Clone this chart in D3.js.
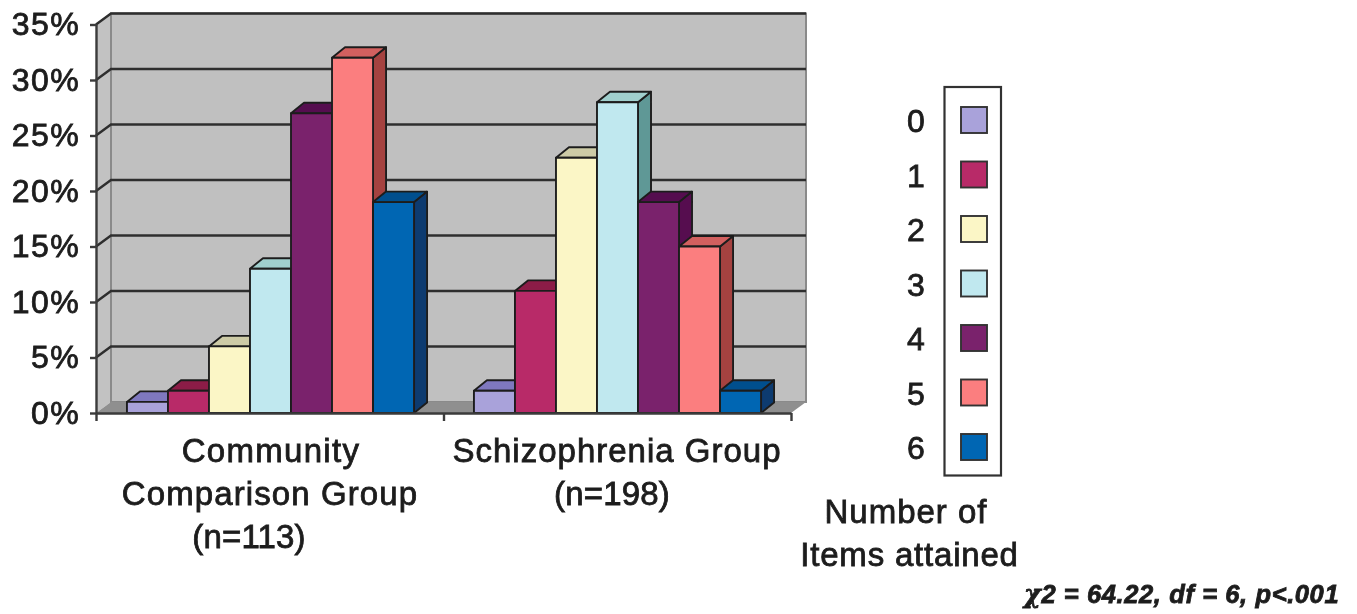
<!DOCTYPE html>
<html>
<head>
<meta charset="utf-8">
<script src="https://cdn.jsdelivr.net/npm/d3@7"></script>
<style>
  html, body { margin: 0; padding: 0; background: #fff; }
  svg { display: block; }
  text { font-family: "Liberation Sans", Arial, sans-serif; fill: #1c1c1c; stroke: #1c1c1c; stroke-width: 0.8px; }
</style>
</head>
<body>
<script>
const groups = ["Community Comparison Group", "Schizophrenia Group"];
const items = ["0", "1", "2", "3", "4", "5", "6"];
const community = [1, 2, 6, 13, 27, 32, 19];
const schizophrenia = [2, 11, 23, 28, 19, 15, 2];
const yTicks = [0, 5, 10, 15, 20, 25, 30, 35];

const frontColors = ["#a9a2da", "#b82b68", "#fbf6c6", "#c0e8ef", "#7a206c", "#fb7e7f", "#0566b3"];
const topColors = ["#7f78bf", "#8c1c46", "#cdcba6", "#a0cfcd", "#551050", "#d2605f", "#04508e"];
const sideColors = ["#6b65a6", "#861d4a", "#b5b38e", "#5f9896", "#560e50", "#a5423f", "#0d3b70"];

const width = 1357;
const height = 614;
const svg = d3.select("body").append("svg").attr("width", width).attr("height", height);

// a slight blur, the reference is a scaled up jpeg
svg.append("defs").append("filter").attr("id", "soft")
  .append("feGaussianBlur").attr("stdDeviation", 0.7);
const chart = svg.append("g").attr("filter", "url(#soft)");

const y = d3.scaleLinear().domain([0, 35]).range([413, 24.5]);
const xEdge = d3.scaleLinear().domain([0, 2]).range([96, 791]);
const xGroup = d3.scaleBand().domain(groups).range([97, 791]);
const xBar = d3.scaleBand().domain(items).range([0, xGroup.bandwidth()]).paddingOuter(0.73).paddingInner(0);

const wallDx = 15, wallDy = -11;
const barDx = 13, barDy = -10.5;
const pts = a => a.map(p => p.join(",")).join(" ");

// walls and floor
chart.append("polygon")
  .attr("points", pts([[xEdge(0), y(0)], [xEdge(0) + wallDx, y(0) + wallDy], [xEdge(0) + wallDx, y(35) + wallDy], [xEdge(0), y(35)]]))
  .attr("fill", "#c2c2c2");
chart.append("rect")
  .attr("x", xEdge(0) + wallDx).attr("y", y(35) + wallDy)
  .attr("width", xEdge(2) - xEdge(0)).attr("height", y(0) - y(35))
  .attr("fill", "#c0c0c0").attr("stroke", "#8a8a8a").attr("stroke-width", 2);
chart.append("polygon")
  .attr("points", pts([[xEdge(0), y(0)], [xEdge(0) + wallDx, y(0) + wallDy], [xEdge(2) + wallDx, y(0) + wallDy], [xEdge(2), y(0)]]))
  .attr("fill", "#8f8f8f");

// gridlines, back wall and the step on the left wall
chart.selectAll(".grid").data(yTicks.slice(1)).join("polyline")
  .attr("class", "grid")
  .attr("fill", "none").attr("stroke", "#2e2e2e").attr("stroke-width", 2.4)
  .attr("points", d => pts([[xEdge(0), y(d)], [xEdge(0) + wallDx, y(d) + wallDy], [xEdge(2) + wallDx, y(d) + wallDy]]));

// bars
const rows = groups.flatMap((g, gi) => items.map((item, i) => ({
  group: g, item: item, i: i, value: (gi === 0 ? community : schizophrenia)[i]
})));
const bar = chart.selectAll(".bar").data(rows).join("g").attr("class", "bar")
  .attr("stroke", "#1e1e1e").attr("stroke-width", 1.9).attr("stroke-linejoin", "round");
bar.append("polygon").attr("fill", d => sideColors[d.i]).attr("points", d => {
  const x1 = xGroup(d.group) + xBar(d.item) + xBar.bandwidth();
  return pts([[x1, y(0)], [x1 + barDx, y(0) + barDy], [x1 + barDx, y(d.value) + barDy], [x1, y(d.value)]]);
});
bar.append("polygon").attr("fill", d => topColors[d.i]).attr("points", d => {
  const x0 = xGroup(d.group) + xBar(d.item);
  const x1 = x0 + xBar.bandwidth();
  return pts([[x0, y(d.value)], [x0 + barDx, y(d.value) + barDy], [x1 + barDx, y(d.value) + barDy], [x1, y(d.value)]]);
});
bar.append("rect").attr("fill", d => frontColors[d.i])
  .attr("x", d => xGroup(d.group) + xBar(d.item))
  .attr("y", d => y(d.value))
  .attr("width", xBar.bandwidth())
  .attr("height", d => y(0) - y(d.value));

// axes
const axisY = d3.axisLeft(y).tickValues(yTicks).tickFormat(d => d + "%").tickSize(6).tickPadding(10).tickSizeOuter(0);
const axisX = d3.axisBottom(xEdge).tickValues([0, 1, 2]).tickFormat("").tickSize(8).tickSizeOuter(0);
const gy = chart.append("g").attr("transform", "translate(" + xEdge(0) + ",0)").call(axisY);
const gx = chart.append("g").attr("transform", "translate(0," + y(0) + ")").call(axisX);
[gy, gx].forEach(g => {
  g.selectAll("path, line").attr("stroke", "#3a3a3a").attr("stroke-width", 2.4);
});
gy.selectAll("text").attr("font-size", 32).attr("letter-spacing", 1.4)
  .attr("font-family", "Liberation Sans").attr("fill", "#1c1c1c");

// category labels
const catLabels = [
  { text: "Community", x: 271, y: 462, spacing: 1.3 },
  { text: "Comparison Group", x: 270, y: 505, spacing: 1.1 },
  { text: "(n=113)", x: 249, y: 548, spacing: 0.2 },
  { text: "Schizophrenia Group", x: 617, y: 462, spacing: 1 },
  { text: "(n=198)", x: 612, y: 505, spacing: 0.2 },
  { text: "Number of", x: 906, y: 523, spacing: 1 },
  { text: "Items attained", x: 909.5, y: 566, spacing: 0.8 }
];
chart.selectAll(".cat").data(catLabels).join("text")
  .attr("class", "cat")
  .attr("x", d => d.x).attr("y", d => d.y)
  .attr("text-anchor", "middle").attr("font-size", 33)
  .attr("letter-spacing", d => d.spacing)
  .text(d => d.text);

// legend
const legendY = d3.scalePoint().domain(items).range([120, 447]);
chart.append("rect").attr("x", 944.5).attr("y", 87).attr("width", 56.5).attr("height", 388.5)
  .attr("fill", "#fff").attr("stroke", "#333").attr("stroke-width", 2.2);
chart.selectAll(".swatch").data(items).join("rect")
  .attr("class", "swatch")
  .attr("x", 961).attr("y", d => legendY(d) - 13)
  .attr("width", 26).attr("height", 26)
  .attr("fill", (d, i) => frontColors[i]).attr("stroke", "#333").attr("stroke-width", 1.9);
chart.selectAll(".legendLabel").data(items).join("text")
  .attr("class", "legendLabel")
  .attr("x", 916).attr("y", d => legendY(d) + 1)
  .attr("dy", "0.35em").attr("text-anchor", "middle").attr("font-size", 32)
  .text(d => d);

// test statistic
const stat = chart.append("text").attr("x", 1024).attr("y", 603)
  .attr("font-size", 25.5).attr("font-weight", "bold").attr("font-style", "italic")
  .attr("letter-spacing", 0.6);
stat.append("tspan").attr("font-family", "DejaVu Serif").text("\u03c7");
stat.append("tspan").text("2 = 64.22, df = 6, p<.001");
</script>
</body>
</html>
